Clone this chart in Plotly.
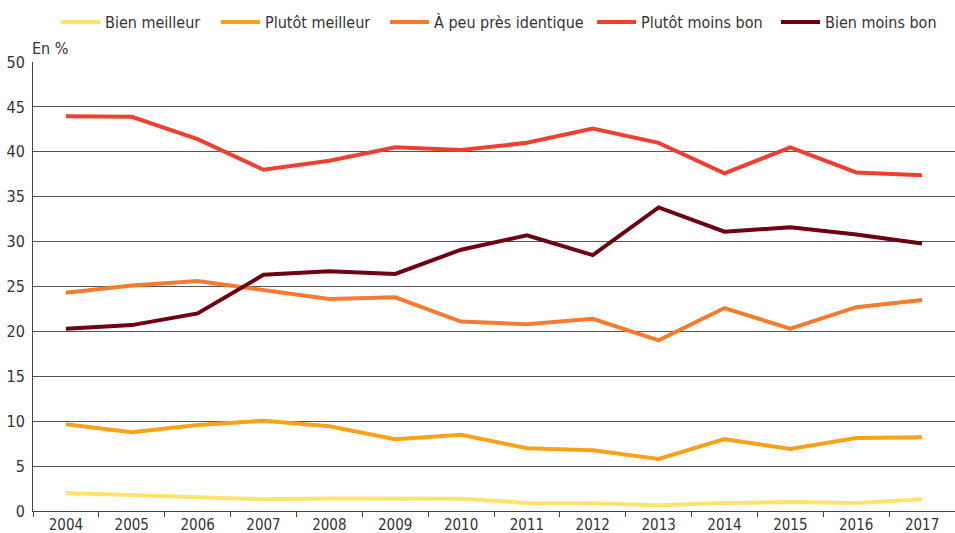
import plotly.graph_objects as go

years = [str(y) for y in range(2004, 2018)]
bien_meilleur = [2.0, 1.75, 1.6, 1.3, 1.4, 1.37, 1.37, 0.9, 0.85, 0.63, 0.9, 1.0, 0.9, 1.3]
plutot_meilleur = [9.65, 8.76, 9.58, 10.06, 9.43, 8.0, 8.5, 7.0, 6.76, 5.8, 8.0, 6.9, 8.13, 8.2]
identique = [24.3, 25.1, 25.6, 24.6, 23.6, 23.8, 21.1, 20.8, 21.4, 19.0, 22.6, 20.3, 22.7, 23.5]
plutot_moins = [43.95, 43.9, 41.4, 38.0, 39.0, 40.5, 40.2, 41.0, 42.6, 41.0, 37.6, 40.5, 37.7, 37.4]
bien_moins = [20.3, 20.7, 22.0, 26.3, 26.7, 26.4, 29.1, 30.7, 28.5, 33.8, 31.1, 31.6, 30.8, 29.8]

series_names = ["Bien meilleur", "Plutôt meilleur", "À peu près identique", "Plutôt moins bon", "Bien moins bon"]
series_values = [bien_meilleur, plutot_meilleur, identique, plutot_moins, bien_moins]
colors = ["#FFE36E", "#F7A21B", "#F47B2F", "#EC4130", "#6D0012"]
legend_x_px = [62, 222, 391, 598, 782]

FONT = "Liberation Sans Narrow, DejaVu Sans Condensed, Roboto, sans-serif"
W, H = 955, 533

fig = go.Figure()
legend_layout = {}
for i, (name, vals, col) in enumerate(zip(series_names, series_values, colors)):
    lname = "legend" if i == 0 else f"legend{i+1}"
    fig.add_trace(go.Scatter(x=years, y=vals, name=name, mode="lines",
                             line=dict(color=col, width=4), legend=lname))
    legend_layout[lname] = dict(
        orientation="h", x=(legend_x_px[i] - 6) / W, xanchor="left", xref="container",
        y=1 - 22 / H, yanchor="middle", yref="container",
        font=dict(size=16, color="#333333"), itemwidth=39,
        bgcolor="rgba(0,0,0,0)", borderwidth=0)

fig.update_layout(
    width=W, height=H,
    margin=dict(l=33, r=0, t=62, b=22, autoexpand=False),
    paper_bgcolor="white", plot_bgcolor="white",
    font=dict(family=FONT, size=16, color="#333333"),
    showlegend=True,
    xaxis=dict(type="category", range=[-0.5, 13.5], showgrid=False, showline=True,
               linecolor="#444444", linewidth=1, ticks="outside", tickson="boundaries",
               ticklen=5, tickcolor="#444444", tickfont=dict(size=15), fixedrange=True),
    yaxis=dict(range=[0, 50], dtick=5, showgrid=True, gridcolor="#555555", gridwidth=1,
               showline=True, linecolor="#444444", linewidth=1, zeroline=False,
               ticks="", tickfont=dict(size=16), ticklabelstandoff=4),
    **legend_layout,
)
fig.add_annotation(text="En %", xref="paper", yref="paper", x=0, y=1.0,
                   xanchor="left", yanchor="bottom", showarrow=False,
                   font=dict(size=16, color="#333333"), xshift=-3, yshift=2)
fig.write_html("out.html")
